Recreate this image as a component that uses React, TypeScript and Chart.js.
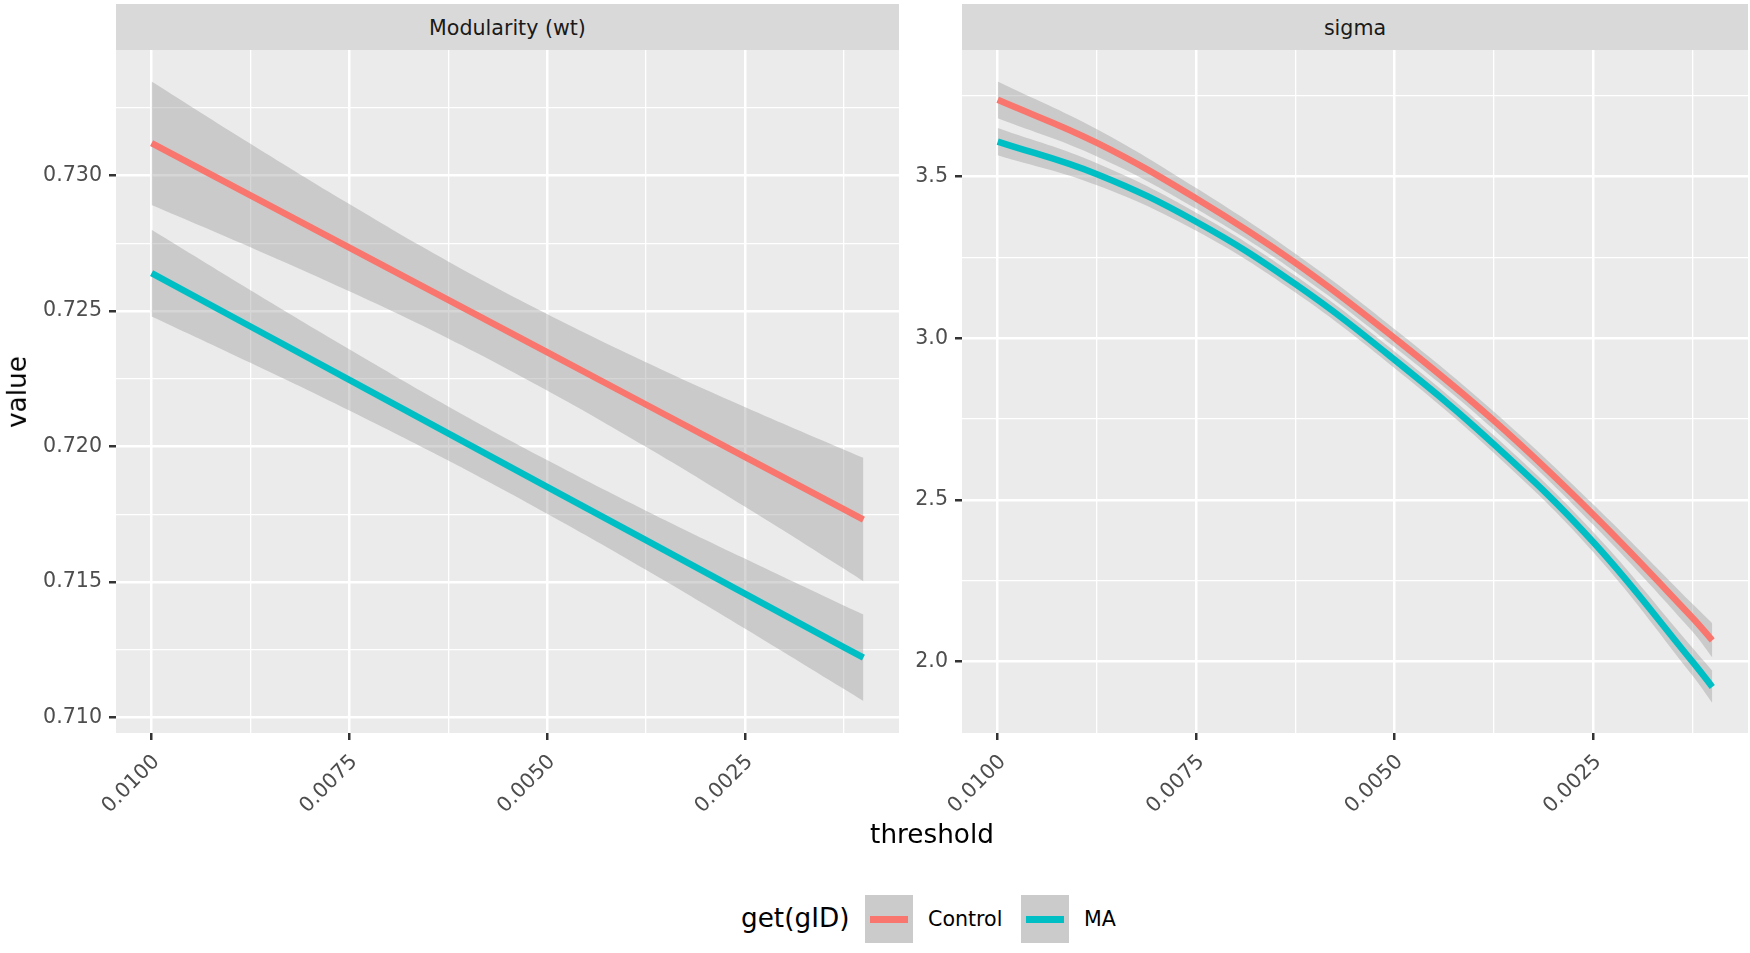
import React, { useEffect, useRef } from "react";
import { Chart, registerables } from "chart.js";

Chart.register(...registerables);

const FONT = "'DejaVu Sans', 'Liberation Sans', sans-serif";

// Threshold values at which the fitted curves are sampled
const thresholds = [0.01, 0.00875, 0.0075, 0.00625, 0.005, 0.00375, 0.0025, 0.00125, 0.001];

// Modularity (wt): fitted line and confidence band per group
const modControlFit = [0.7312, 0.72927, 0.72734, 0.72541, 0.72348, 0.72155, 0.71962, 0.71769, 0.7173];
const modControlUpper = [0.73348, 0.73118, 0.72895, 0.72683, 0.72489, 0.72311, 0.72146, 0.71989, 0.71958];
const modControlLower = [0.72892, 0.72736, 0.72573, 0.72399, 0.72207, 0.71999, 0.71778, 0.71549, 0.71502];
const modMAFit = [0.7264, 0.72443, 0.72246, 0.72048, 0.71851, 0.71654, 0.71457, 0.71259, 0.7122];
const modMAUpper = [0.728, 0.72577, 0.72359, 0.72148, 0.7195, 0.71763, 0.71586, 0.71413, 0.7138];
const modMALower = [0.7248, 0.72309, 0.72133, 0.71948, 0.71752, 0.71545, 0.71328, 0.71105, 0.7106];

// sigma: fitted curve and confidence band per group
const sigmaControlFit = [3.737, 3.604, 3.432, 3.233, 3.0, 2.745, 2.455, 2.136, 2.066];
const sigmaControlUpper = [3.794, 3.646, 3.464, 3.261, 3.028, 2.773, 2.487, 2.179, 2.119];
const sigmaControlLower = [3.68, 3.562, 3.4, 3.205, 2.972, 2.717, 2.423, 2.093, 2.013];
const sigmaMAFit = [3.608, 3.507, 3.36, 3.167, 2.933, 2.672, 2.37, 2.0, 1.922];
const sigmaMAUpper = [3.65, 3.541, 3.388, 3.193, 2.959, 2.699, 2.401, 2.043, 1.972];
const sigmaMALower = [3.566, 3.473, 3.332, 3.141, 2.907, 2.645, 2.339, 1.957, 1.872];

// Axis ticks and labels
const xMajorTicks = [0.01, 0.0075, 0.005, 0.0025];
const xMinorTicks = [0.00875, 0.00625, 0.00375, 0.00125];
const xTickLabels = ["0.0100", "0.0075", "0.0050", "0.0025"];
const modYMajorTicks = [0.71, 0.715, 0.72, 0.725, 0.73];
const modYMinorTicks = [0.7125, 0.7175, 0.7225, 0.7275, 0.7325];
const modYTickLabels = ["0.710", "0.715", "0.720", "0.725", "0.730"];
const sigmaYMajorTicks = [2, 2.5, 3, 3.5];
const sigmaYMinorTicks = [2.25, 2.75, 3.25, 3.75];
const sigmaYTickLabels = ["2.0", "2.5", "3.0", "3.5"];

// Axis limits (data range plus 5% expansion)
const xRange = [0.00055, 0.01045];
const modYRange = [0.70942, 0.73464];
const sigmaYRange = [1.7795, 3.891];

const groups = ["Control", "MA"];
const groupColors = ["#F8766D", "#00BFC4"];
const bandColor = "rgba(153,153,153,0.4)";

const CANVAS_TOP = 26;
const PAD_TOP = 24;
const AREA_H = 683;
const X_AXIS_H = 100;
const CANVAS_H = PAD_TOP + AREA_H + X_AXIS_H;
const TICK_FONT = 20.6;
const TITLE_FONT = 26.3;

const panelBackground = {
  id: "panelBackground",
  beforeDraw(chart: any) {
    const { ctx, chartArea } = chart;
    ctx.save();
    ctx.fillStyle = "#EBEBEB";
    ctx.fillRect(chartArea.left, chartArea.top, chartArea.width, chartArea.height);
    ctx.restore();
  },
};

const toPoints = (ys: number[]) => thresholds.map((t, i) => ({ x: t, y: ys[i] }));

function tickObjects(major: number[], minor: number[]) {
  return [...major, ...minor].sort((a, b) => b - a).map((v) => ({ value: v }));
}

function isIn(list: number[], v: number) {
  return list.some((m) => Math.abs(m - v) < 1e-9);
}

function labelFor(major: number[], labels: string[], v: number) {
  const i = major.findIndex((m) => Math.abs(m - v) < 1e-9);
  return i >= 0 ? labels[i] : "";
}

function gridOptions(major: number[]) {
  return {
    color: "#FFFFFF",
    lineWidth: (c: any) => (c.tick && isIn(major, c.tick.value) ? 2.5 : 1.3),
    tickColor: (c: any) => (c.tick && isIn(major, c.tick.value) ? "#333333" : "rgba(0,0,0,0)"),
    tickWidth: 2.5,
    tickLength: 7,
    drawTicks: true,
  };
}

type Band = { fit: number[]; upper: number[]; lower: number[] };

type PanelProps = {
  left: number;
  width: number;
  yAxisWidth: number;
  yRange: number[];
  yMajor: number[];
  yMinor: number[];
  yLabels: string[];
  bands: Band[];
  curved: boolean;
};

function Panel(props: PanelProps) {
  const ref = useRef<HTMLCanvasElement | null>(null);
  useEffect(() => {
    const { yAxisWidth, yRange, yMajor, yMinor, yLabels, bands, curved } = props;
    const datasets: any[] = [];
    bands.forEach((b, g) => {
      const baseOrder = 10 - g * 3;
      datasets.push({
        data: toPoints(b.upper),
        borderWidth: 0,
        borderColor: "rgba(0,0,0,0)",
        backgroundColor: bandColor,
        fill: "+1",
        pointRadius: 0,
        tension: 0.4,
        order: baseOrder,
      });
      datasets.push({
        data: toPoints(b.lower),
        borderWidth: 0,
        borderColor: "rgba(0,0,0,0)",
        fill: false,
        pointRadius: 0,
        tension: 0.4,
        order: baseOrder,
      });
      datasets.push({
        label: groups[g],
        data: toPoints(b.fit),
        borderColor: groupColors[g],
        borderWidth: 6.5,
        fill: false,
        pointRadius: 0,
        tension: curved ? 0.4 : 0,
        order: baseOrder - 1,
      });
    });

    const chart = new Chart(ref.current as HTMLCanvasElement, {
      type: "line",
      data: { datasets },
      plugins: [panelBackground],
      options: {
        animation: false,
        responsive: false,
        maintainAspectRatio: false,
        devicePixelRatio: 1,
        layout: { padding: { top: PAD_TOP, left: 0, right: 0, bottom: 0 } },
        plugins: {
          legend: { display: false },
          title: { display: false },
          tooltip: { enabled: false },
        },
        scales: {
          x: {
            type: "linear",
            reverse: true,
            bounds: "data",
            min: xRange[0],
            max: xRange[1],
            afterBuildTicks: (axis: any) => {
              axis.ticks = tickObjects(xMajorTicks, xMinorTicks);
            },
            afterFit: (axis: any) => {
              axis.height = X_AXIS_H;
            },
            ticks: {
              autoSkip: false,
              minRotation: 45,
              maxRotation: 45,
              padding: 10,
              labelOffset: 5,
              color: "#4D4D4D",
              font: { family: FONT, size: TICK_FONT },
              callback: (v: any) => labelFor(xMajorTicks, xTickLabels, Number(v)),
            },
            grid: gridOptions(xMajorTicks),
            border: { display: false },
          },
          y: {
            type: "linear",
            bounds: "data",
            min: yRange[0],
            max: yRange[1],
            afterBuildTicks: (axis: any) => {
              axis.ticks = tickObjects(yMajor, yMinor);
            },
            afterFit: (axis: any) => {
              axis.width = yAxisWidth;
            },
            ticks: {
              autoSkip: false,
              padding: 7,
              color: "#4D4D4D",
              font: { family: FONT, size: TICK_FONT },
              callback: (v: any) => labelFor(yMajor, yLabels, Number(v)),
            },
            grid: gridOptions(yMajor),
            border: { display: false },
          },
        },
      } as any,
    });
    return () => chart.destroy();
  }, []);

  return (
    <canvas
      ref={ref}
      width={props.width}
      height={CANVAS_H}
      style={{ position: "absolute", left: props.left, top: CANVAS_TOP, width: props.width, height: CANVAS_H }}
    />
  );
}

function Strip({ left, width, text }: { left: number; width: number; text: string }) {
  return (
    <div
      style={{
        position: "absolute",
        left,
        top: 4,
        width,
        height: 46,
        background: "#D9D9D9",
        color: "#1A1A1A",
        fontFamily: FONT,
        fontSize: TICK_FONT,
        lineHeight: "48px",
        textAlign: "center",
        whiteSpace: "nowrap",
      }}
    >
      {text}
    </div>
  );
}

function LegendKey({ left, color }: { left: number; color: string }) {
  return (
    <div style={{ position: "absolute", left, top: 895, width: 48, height: 48, background: "#CBCBCB" }}>
      <div style={{ position: "absolute", left: 5, top: 20.5, width: 38, height: 7, background: color }} />
    </div>
  );
}

export default function App() {
  const textBase = { position: "absolute" as const, fontFamily: FONT, whiteSpace: "nowrap" as const, lineHeight: 1 };
  return (
    <div style={{ position: "absolute", left: 0, top: 0, width: 1750, height: 953, background: "#FFFFFF", overflow: "hidden" }}>
      <Panel
        left={0}
        width={899}
        yAxisWidth={116}
        yRange={modYRange}
        yMajor={modYMajorTicks}
        yMinor={modYMinorTicks}
        yLabels={modYTickLabels}
        bands={[
          { fit: modControlFit, upper: modControlUpper, lower: modControlLower },
          { fit: modMAFit, upper: modMAUpper, lower: modMALower },
        ]}
        curved={false}
      />
      <Panel
        left={900}
        width={848}
        yAxisWidth={62}
        yRange={sigmaYRange}
        yMajor={sigmaYMajorTicks}
        yMinor={sigmaYMinorTicks}
        yLabels={sigmaYTickLabels}
        bands={[
          { fit: sigmaControlFit, upper: sigmaControlUpper, lower: sigmaControlLower },
          { fit: sigmaMAFit, upper: sigmaMAUpper, lower: sigmaMALower },
        ]}
        curved={true}
      />
      <Strip left={116} width={783} text="Modularity (wt)" />
      <Strip left={962} width={786} text="sigma" />

      <div
        style={{
          ...textBase,
          left: 17,
          top: 392,
          fontSize: TITLE_FONT,
          color: "#000",
          transform: "translate(-50%, -50%) rotate(-90deg)",
        }}
      >
        value
      </div>
      <div style={{ ...textBase, left: 932, top: 821, fontSize: TITLE_FONT, color: "#000", transform: "translateX(-50%)" }}>
        threshold
      </div>

      <div style={{ ...textBase, left: 741, top: 905, fontSize: TITLE_FONT, color: "#000" }}>get(gID)</div>
      <LegendKey left={865} color={groupColors[0]} />
      <div style={{ ...textBase, left: 928, top: 909, fontSize: TICK_FONT, color: "#000" }}>{groups[0]}</div>
      <LegendKey left={1021} color={groupColors[1]} />
      <div style={{ ...textBase, left: 1084, top: 909, fontSize: TICK_FONT, color: "#000" }}>{groups[1]}</div>
    </div>
  );
}
